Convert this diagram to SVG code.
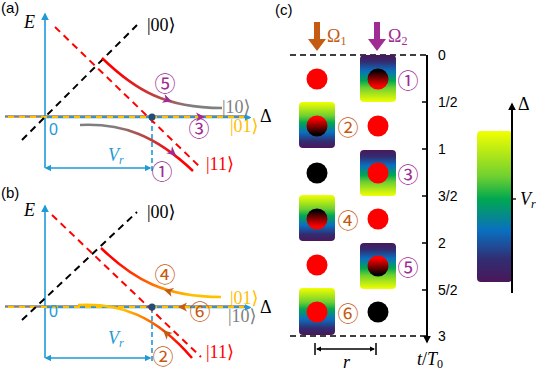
<svg xmlns="http://www.w3.org/2000/svg" xmlns:xlink="http://www.w3.org/1999/xlink" width="537" height="372" viewBox="0 0 537 372">
<style>
.lbl{font-family:"Liberation Sans",Arial,sans-serif;font-size:15px;fill:#000}
.math{font-family:"Liberation Serif","DejaVu Serif",serif;font-size:18px}
.it{font-style:italic}
.tick{font-family:"Liberation Sans",Arial,sans-serif;font-size:14px;fill:#000}
.circ{font-family:"Noto Sans CJK JP","DejaVu Sans",sans-serif;font-size:21px;text-anchor:middle;dominant-baseline:central}
.mag{fill:#a02b93}
.brn{fill:#c55a11}
.ax{stroke:#1e9ad6;stroke-width:1.6;fill:none}
.bdash{stroke:#000;stroke-width:2;stroke-dasharray:7 5;fill:none}
.rdash{stroke:#ff0000;stroke-width:2;stroke-dasharray:7 5;fill:none}
.base{stroke:#808080;stroke-width:2.5;fill:none}
.ydash{stroke:#ffc000;stroke-width:2.2;stroke-dasharray:6 5;fill:none}
.curve{stroke-width:2.5;fill:none}
</style>
<defs>
<marker id="mBlue" viewBox="0 0 10 10" refX="8" refY="5" markerWidth="5" markerHeight="5" orient="auto-start-reverse" markerUnits="strokeWidth">
<path d="M0,0 L10,5 L0,10 Z" fill="#1e9ad6"/>
</marker>
<marker id="mBlk" viewBox="0 0 10 10" refX="8" refY="5" markerWidth="4" markerHeight="4" orient="auto-start-reverse" markerUnits="strokeWidth">
<path d="M0,0 L10,5 L0,10 Z" fill="#000"/>
</marker>
<path id="ah" d="M-5,-4.5 L4,0 L-5,4.5 L-2.5,0 Z"/>
<linearGradient id="gA1" gradientUnits="userSpaceOnUse" x1="102" y1="0" x2="222" y2="0">
<stop offset="0.12" stop-color="#ff0000"/><stop offset="0.75" stop-color="#7f7f7f"/>
</linearGradient>
<linearGradient id="gA2" gradientUnits="userSpaceOnUse" x1="80" y1="0" x2="193" y2="0">
<stop offset="0.3" stop-color="#7f7f7f"/><stop offset="0.88" stop-color="#ff0000"/>
</linearGradient>
<linearGradient id="gB1" gradientUnits="userSpaceOnUse" x1="102" y1="0" x2="222" y2="0">
<stop offset="0.1" stop-color="#ff0000"/><stop offset="0.45" stop-color="#ff7a00"/><stop offset="0.75" stop-color="#ffc000"/>
</linearGradient>
<linearGradient id="gB2" gradientUnits="userSpaceOnUse" x1="78" y1="0" x2="192" y2="0">
<stop offset="0.4" stop-color="#ffc000"/><stop offset="0.92" stop-color="#ff0000"/>
</linearGradient>
<linearGradient id="vUp" x1="0" y1="0" x2="0" y2="1">
<stop offset="0" stop-color="#f2ff00"/><stop offset="0.3" stop-color="#70d030"/><stop offset="0.45" stop-color="#00a850"/><stop offset="0.66" stop-color="#0a6fc0"/><stop offset="0.85" stop-color="#322d72"/><stop offset="1" stop-color="#4a175a"/>
</linearGradient>
<linearGradient id="vDown" x1="0" y1="1" x2="0" y2="0">
<stop offset="0" stop-color="#f2ff00"/><stop offset="0.3" stop-color="#70d030"/><stop offset="0.45" stop-color="#00a850"/><stop offset="0.66" stop-color="#0a6fc0"/><stop offset="0.85" stop-color="#322d72"/><stop offset="1" stop-color="#4a175a"/>
</linearGradient>
<linearGradient id="kr" x1="0" y1="0" x2="0" y2="1">
<stop offset="0.1" stop-color="#000"/><stop offset="0.85" stop-color="#ff0000"/>
</linearGradient>
<linearGradient id="rk" x1="0" y1="0" x2="0" y2="1">
<stop offset="0.15" stop-color="#ff0000"/><stop offset="0.9" stop-color="#000"/>
</linearGradient>
</defs>
<rect width="537" height="372" fill="#fff"/>

<!-- Panel (a) -->
<g id="panel-a">
<text class="lbl" x="1" y="13">(a)</text>
<text class="math it" x="24" y="28">E</text>
<line class="ax" x1="45" y1="168" x2="45" y2="14" marker-end="url(#mBlue)"/>
<line class="base" x1="5" y1="116.5" x2="246" y2="116.5"/>
<line class="ax" x1="45" y1="117.5" x2="250" y2="117.5" marker-end="url(#mBlue)" style="stroke-width:1.3"/>
<line class="ydash" x1="8" y1="117" x2="244" y2="117"/>
<text class="math" x="260" y="122">Δ</text>
<text class="lbl" x="49" y="135" style="fill:#1e9ad6;font-size:16px">0</text>
<line class="ax" x1="46" y1="168" x2="150" y2="168" marker-start="url(#mBlue)" marker-end="url(#mBlue)" style="stroke-width:1.3"/>
<line class="ax" x1="152" y1="118" x2="152" y2="174" style="stroke-dasharray:5 3;stroke-width:1.6"/>
<text class="math it" x="108" y="161" style="fill:#1e9ad6">V<tspan font-size="12" dy="3">r</tspan></text>
</g>
<g id="lines-a">
<line class="bdash" x1="22" y1="140" x2="137" y2="25"/>
<line class="rdash" x1="55" y1="27" x2="201" y2="168"/>
<path class="curve" d="M102,58 C135,90 165,108 222,108" stroke="url(#gA1)"/>
<path class="curve" d="M80,125 C122,123 155,135 193,171" stroke="url(#gA2)"/>
<circle cx="152" cy="117" r="3.5" fill="#1f4e79"/>
<use href="#ah" transform="translate(168,100) rotate(18)" class="mag"/>
<use href="#ah" transform="translate(173,153) rotate(40)" class="mag"/>
<use href="#ah" transform="translate(201,117)" class="mag"/>
</g>
<g id="labels-a">
<text class="math" x="147" y="31">|00⟩</text>
<text class="math" x="222" y="113" fill="#808080">|10⟩</text>
<text class="math" x="230" y="132" fill="#ffc000">|01⟩</text>
<text class="math" x="206" y="170" fill="#ff0000">|11⟩</text>
<text class="circ mag" x="165" y="82">⑤</text>
<text class="circ mag" x="199" y="127">③</text>
<text class="circ mag" x="162" y="170">①</text>
</g>

<!-- Panel (b) -->
<g id="panel-b">
<text class="lbl" x="1" y="198">(b)</text>
<text class="math it" x="24" y="216">E</text>
<line class="ax" x1="45" y1="358" x2="45" y2="206" marker-end="url(#mBlue)"/>
<line class="base" x1="5" y1="306.5" x2="246" y2="306.5"/>
<line class="ax" x1="45" y1="307.5" x2="250" y2="307.5" marker-end="url(#mBlue)" style="stroke-width:1.3"/>
<line class="ydash" x1="8" y1="307" x2="244" y2="307"/>
<text class="math" x="260" y="313">Δ</text>
<text class="lbl" x="49" y="317" style="fill:#1e9ad6;font-size:16px">0</text>
<line class="ax" x1="46" y1="358" x2="150" y2="358" marker-start="url(#mBlue)" marker-end="url(#mBlue)" style="stroke-width:1.3"/>
<line class="ax" x1="152" y1="308" x2="152" y2="362" style="stroke-dasharray:5 3;stroke-width:1.6"/>
<text class="math it" x="108" y="344" style="fill:#1e9ad6">V<tspan font-size="12" dy="3">r</tspan></text>
</g>
<g id="lines-b">
<line class="bdash" x1="22" y1="320" x2="137" y2="212"/>
<line class="rdash" x1="52" y1="215" x2="201" y2="357"/>
<path class="curve" d="M101,248 C134,280 165,297 221,297" stroke="url(#gB1)"/>
<path class="curve" d="M78,305 C120,303 155,315 192,358" stroke="url(#gB2)"/>
<circle cx="152" cy="307" r="3.5" fill="#1f4e79"/>
<use href="#ah" transform="translate(168,291) rotate(196)" class="brn"/>
<use href="#ah" transform="translate(166,333) rotate(222)" class="brn"/>
<use href="#ah" transform="translate(182,307) rotate(180)" class="brn"/>
</g>
<g id="labels-b">
<text class="math" x="147" y="218">|00⟩</text>
<text class="math" x="230" y="304" fill="#ffc000">|01⟩</text>
<text class="math" x="228" y="322" fill="#808080">|10⟩</text>
<text class="math" x="206" y="358" fill="#ff0000">|11⟩</text>
<text class="circ brn" x="165" y="273">④</text>
<text class="circ brn" x="200" y="310">⑥</text>
<text class="circ brn" x="163" y="355">②</text>
</g>

<!-- Panel (c) -->
<g id="panel-c">
<text class="lbl" x="275" y="15">(c)</text>
<path d="M314,22 h6 v17 h6 l-9,12 l-9,-12 h6 Z" fill="#c55a11"/>
<text class="math" x="327" y="42" fill="#c55a11">Ω<tspan font-size="12" dy="3">1</tspan></text>
<path d="M374,22 h6 v17 h6 l-9,12 l-9,-12 h6 Z" fill="#a02b93"/>
<text class="math" x="388" y="42" fill="#a02b93">Ω<tspan font-size="12" dy="3">2</tspan></text>
<line class="bdash" x1="290" y1="55" x2="426" y2="55" style="stroke-width:1.5;stroke-dasharray:6 4"/>
<line class="bdash" x1="290" y1="336" x2="426" y2="336" style="stroke-width:1.5;stroke-dasharray:6 4"/>
</g>
<g id="time-axis">
<line x1="427" y1="55" x2="427" y2="342" stroke="#000" stroke-width="2" marker-end="url(#mBlk)"/>
<g stroke="#000" stroke-width="1.5">
<line x1="422" y1="102" x2="427" y2="102"/>
<line x1="422" y1="149" x2="427" y2="149"/>
<line x1="422" y1="196" x2="427" y2="196"/>
<line x1="422" y1="243" x2="427" y2="243"/>
<line x1="422" y1="290" x2="427" y2="290"/>
</g>
<text class="tick" x="438" y="60">0</text>
<text class="tick" x="438" y="107">1/2</text>
<text class="tick" x="438" y="154">1</text>
<text class="tick" x="438" y="201">3/2</text>
<text class="tick" x="438" y="248">2</text>
<text class="tick" x="438" y="295">5/2</text>
<text class="tick" x="438" y="341">3</text>
<text class="math it" x="417" y="365">t<tspan font-style="normal">/</tspan>T<tspan font-size="12" dy="3" font-style="normal">0</tspan></text>
</g>
<g id="scale-r">
<line x1="317" y1="349" x2="374" y2="349" stroke="#000" stroke-width="1.3" marker-start="url(#mBlk)" marker-end="url(#mBlk)"/>
<line x1="315" y1="343" x2="315" y2="355" stroke="#000" stroke-width="1.5"/>
<line x1="376" y1="343" x2="376" y2="355" stroke="#000" stroke-width="1.5"/>
<text class="math it" x="343" y="368">r</text>
</g>
<g id="row1">
<circle cx="317" cy="79" r="10.5" fill="#ff0000"/>
<rect x="360" y="55" width="36" height="47" rx="4" fill="url(#vDown)"/>
<circle cx="378" cy="79" r="10.5" fill="url(#kr)"/>
<text class="circ mag" x="408" y="79">①</text>
</g>
<g id="row2">
<rect x="299" y="102" width="36" height="46" rx="4" fill="url(#vUp)"/>
<circle cx="317" cy="126" r="10.5" fill="url(#rk)"/>
<circle cx="378" cy="126" r="10.5" fill="#ff0000"/>
<text class="circ brn" x="348" y="126">②</text>
</g>
<g id="row3">
<circle cx="317" cy="173" r="10.5" fill="#000"/>
<rect x="360" y="150" width="36" height="46" rx="4" fill="url(#vDown)"/>
<circle cx="378" cy="173" r="10.5" fill="#ff0000"/>
<text class="circ mag" x="408" y="173">③</text>
</g>
<g id="row4">
<rect x="299" y="195" width="36" height="46" rx="4" fill="url(#vUp)"/>
<circle cx="317" cy="219" r="10.5" fill="url(#kr)"/>
<circle cx="378" cy="219" r="10.5" fill="#ff0000"/>
<text class="circ brn" x="348" y="219">④</text>
</g>
<g id="row5">
<circle cx="317" cy="265" r="10.5" fill="#ff0000"/>
<rect x="360" y="243" width="36" height="46" rx="4" fill="url(#vDown)"/>
<circle cx="378" cy="266" r="10.5" fill="url(#rk)"/>
<text class="circ mag" x="408" y="266">⑤</text>
</g>
<g id="row6">
<rect x="299" y="288" width="36" height="47" rx="4" fill="url(#vUp)"/>
<circle cx="317" cy="312" r="10.5" fill="#ff0000"/>
<circle cx="378" cy="312" r="10.5" fill="#000"/>
<text class="circ brn" x="348" y="312">⑥</text>
</g>
<g id="colorbar">
<rect x="477" y="131" width="35" height="151" rx="4" fill="url(#vUp)"/>
<line x1="512" y1="293" x2="512" y2="104" stroke="#000" stroke-width="2" marker-end="url(#mBlk)"/>
<line x1="512" y1="199" x2="516" y2="199" stroke="#000" stroke-width="1.3"/>
<text class="math" x="518" y="110">Δ</text>
<text class="math it" x="520" y="205">V<tspan font-size="12" dy="3">r</tspan></text>
</g>
</svg>
